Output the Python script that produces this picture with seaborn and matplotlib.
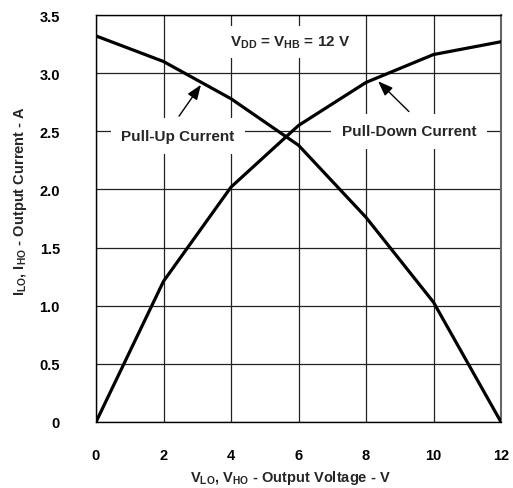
import matplotlib
matplotlib.use("Agg")
import matplotlib.pyplot as plt
import seaborn as sns
import pandas as pd

# Data
voltage = [0, 2, 4, 6, 8, 10, 12]
pull_up = [3.32, 3.10, 2.78, 2.38, 1.76, 1.03, 0.0]
pull_down = [0.0, 1.21, 2.02, 2.55, 2.92, 3.16, 3.27]
x_ticks = [0, 2, 4, 6, 8, 10, 12]
y_ticks = [0, 0.5, 1.0, 1.5, 2.0, 2.5, 3.0, 3.5]
y_tick_labels = ["0", "0.5", "1.0", "1.5", "2.0", "2.5", "3.0", "3.5"]

df = pd.DataFrame({
    "V": voltage * 2,
    "I": pull_up + pull_down,
    "curve": ["Pull-Up"] * len(voltage) + ["Pull-Down"] * len(voltage),
})

sns.set_theme(style="white")
plt.rcParams["font.family"] = ["Liberation Sans", "DejaVu Sans"]
plt.rcParams["font.weight"] = "bold"
plt.rcParams["mathtext.fontset"] = "custom"
plt.rcParams["mathtext.rm"] = "Liberation Sans:bold"
plt.rcParams["mathtext.it"] = "Liberation Sans:bold"
plt.rcParams["mathtext.bf"] = "Liberation Sans:bold"
plt.rcParams["mathtext.default"] = "rm"

fig = plt.figure(figsize=(5.13, 4.89), dpi=100)
ax = fig.add_axes([96 / 513, 1 - 423 / 489, 405 / 513, 407 / 489])

sns.lineplot(data=df, x="V", y="I", hue="curve", palette=["black", "black"],
             linewidth=2.3, legend=False, ax=ax, zorder=3)

ax.set_xlim(0, 12)
ax.set_ylim(0, 3.5)
ax.set_xticks(x_ticks)
ax.set_xticklabels([str(t) for t in x_ticks])
ax.set_yticks(y_ticks)
ax.set_yticklabels(y_tick_labels)
ax.tick_params(axis="both", length=0, labelsize=10.5, colors="black")
ax.tick_params(axis="x", pad=19)
ax.tick_params(axis="y", pad=26)
for lab in ax.get_xticklabels() + ax.get_yticklabels():
    lab.set_fontweight("bold")

ax.grid(True, color="#222222", linewidth=0.9, zorder=1)
for s in ax.spines.values():
    s.set_color("black")
    s.set_linewidth(1.0)
ax.spines["right"].set_color("#666666")
ax.spines["right"].set_linewidth(1.5)

ax.set_xlabel(r"V$_{LO}$, V$_{HO}$ - Output Voltage - V", fontsize=10.5,
              fontweight="bold")
ax.set_ylabel(r"I$_{LO}$, I$_{HO}$ - Output Current - A", fontsize=10.5,
              fontweight="bold")
ax.xaxis.set_label_coords(0.479, -0.112)
ax.yaxis.set_label_coords(-0.165, 0.545)

ax.text(5.75, 3.27, r"V$_{DD}$ = V$_{HB}$ = 12 V", fontsize=11,
        fontweight="bold", ha="center", va="center",
        bbox=dict(facecolor="white", edgecolor="none", boxstyle="square,pad=0.5"),
        zorder=4)

box = dict(facecolor="white", edgecolor="none", boxstyle="square,pad=0.7")
arrow = dict(arrowstyle="-|>,head_length=0.45,head_width=0.17", color="black",
             lw=1.0, mutation_scale=20, shrinkA=0, shrinkB=0)

ax.annotate("", xy=(3.11, 2.90), xytext=(2.46, 2.63),
            arrowprops=arrow, zorder=5)
ax.text(2.43, 2.46, "Pull-Up Current", fontsize=11, fontweight="bold",
        ha="center", va="center", bbox=box, zorder=4)

ax.annotate("", xy=(8.36, 2.93), xytext=(9.27, 2.67),
            arrowprops=arrow, zorder=5)
ax.text(9.27, 2.50, "Pull-Down Current", fontsize=11, fontweight="bold",
        ha="center", va="center", bbox=box, zorder=4)

fig.savefig("out.png", dpi=100)
